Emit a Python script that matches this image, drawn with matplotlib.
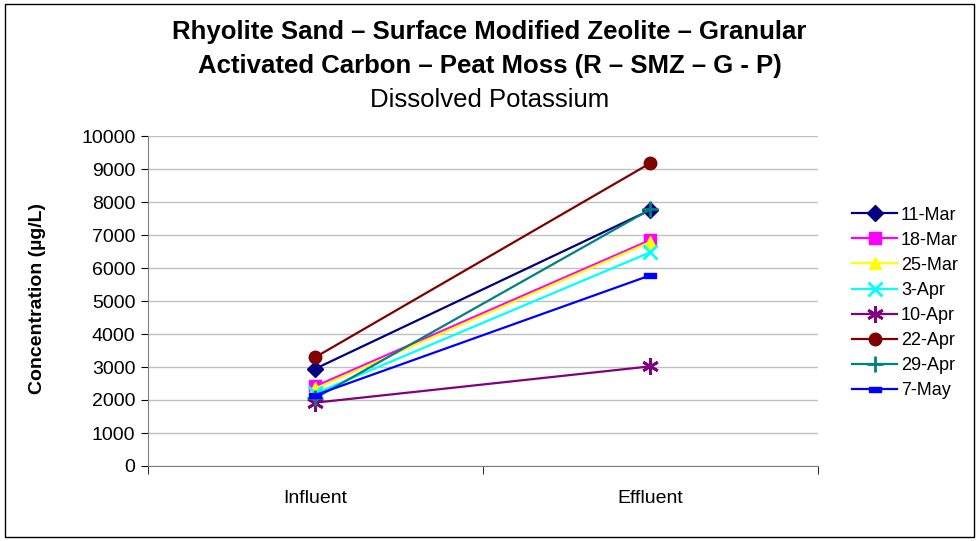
import numpy as np
import matplotlib.pyplot as plt
from matplotlib.patches import Rectangle

plt.rcParams['font.family'] = ['Liberation Sans', 'DejaVu Sans']

categories = ['Influent', 'Effluent']
dates = ['11-Mar', '18-Mar', '25-Mar', '3-Apr', '10-Apr', '22-Apr', '29-Apr', '7-May']
influent = [2950, 2420, 2350, 2200, 1920, 3300, 2060, 2150]
effluent = [7760, 6850, 6790, 6480, 3020, 9180, 7780, 5780]

colors = ['#000080', '#FF00FF', '#FFFF00', '#00FFFF', '#800080', '#800000', '#008080', '#0000FF']
dash = [(-1, -0.45), (1, -0.45), (1, 0.45), (-1, 0.45), (-1, -0.45)]
markers = ['D', 's', '^', 'x', (6, 2, 0), 'o', '+', dash]
sizes = [8, 8, 9, 10, 12, 9, 12, 8]
edge_w = [1, 1, 1, 2, 2, 1, 2, 1]

fig = plt.figure(figsize=(9.79, 5.41), dpi=100)
fig.patches.append(Rectangle((0.005, 0.007), 0.99, 0.986, transform=fig.transFigure,
                             fill=False, edgecolor='black', linewidth=1))
ax = fig.add_axes([148 / 979, 1 - 466 / 541, 670 / 979, 330 / 541])

x = np.arange(1, len(categories) + 1)
for i, d in enumerate(dates):
    ax.plot(x, [influent[i], effluent[i]], color=colors[i], marker=markers[i],
            markersize=sizes[i], markeredgewidth=edge_w[i],
            linewidth=1.6, label=d, clip_on=False)

ax.set_xlim(0.5, 2.5)
ax.set_ylim(0, 10000)
ax.set_yticks(np.arange(0, 10001, 1000))
ax.set_xticks(x)
ax.set_xticklabels(categories, fontsize=14)
ax.tick_params(axis='x', length=0, pad=17)
ax.set_xticks([0.5, 1.5, 2.5], minor=True)
ax.tick_params(axis='x', which='minor', length=6, direction='out')
ax.tick_params(axis='y', labelsize=14, length=5, direction='out', pad=4)
ax.grid(axis='y', color='#c0c0c0', linewidth=1)
ax.set_axisbelow(True)
for s in ['top', 'right']:
    ax.spines[s].set_visible(False)
ax.spines['left'].set_color('#808080')
ax.spines['bottom'].set_color('#808080')
ax.set_ylabel('Concentration (µg/L)', fontsize=14, fontweight='bold')
ax.yaxis.set_label_coords(46 / 979, 1 - 298 / 541, transform=fig.transFigure)

title_size = 18.5
fig.text(0.5, 1 - 32 / 541, 'Rhyolite Sand – Surface Modified Zeolite – Granular',
         ha='center', va='center', fontsize=title_size, fontweight='bold')
fig.text(0.5, 1 - 66 / 541, 'Activated Carbon – Peat Moss (R – SMZ – G - P)',
         ha='center', va='center', fontsize=title_size, fontweight='bold')
fig.text(0.5, 1 - 100 / 541, 'Dissolved Potassium', ha='center', va='center', fontsize=title_size)

ax.legend(loc='center left', bbox_to_anchor=(836 / 979, 1 - 303 / 541),
          bbox_transform=fig.transFigure, frameon=False, fontsize=13,
          handlelength=2.5, labelspacing=0.45, handletextpad=0.2)

fig.savefig('out.png', dpi=100)
